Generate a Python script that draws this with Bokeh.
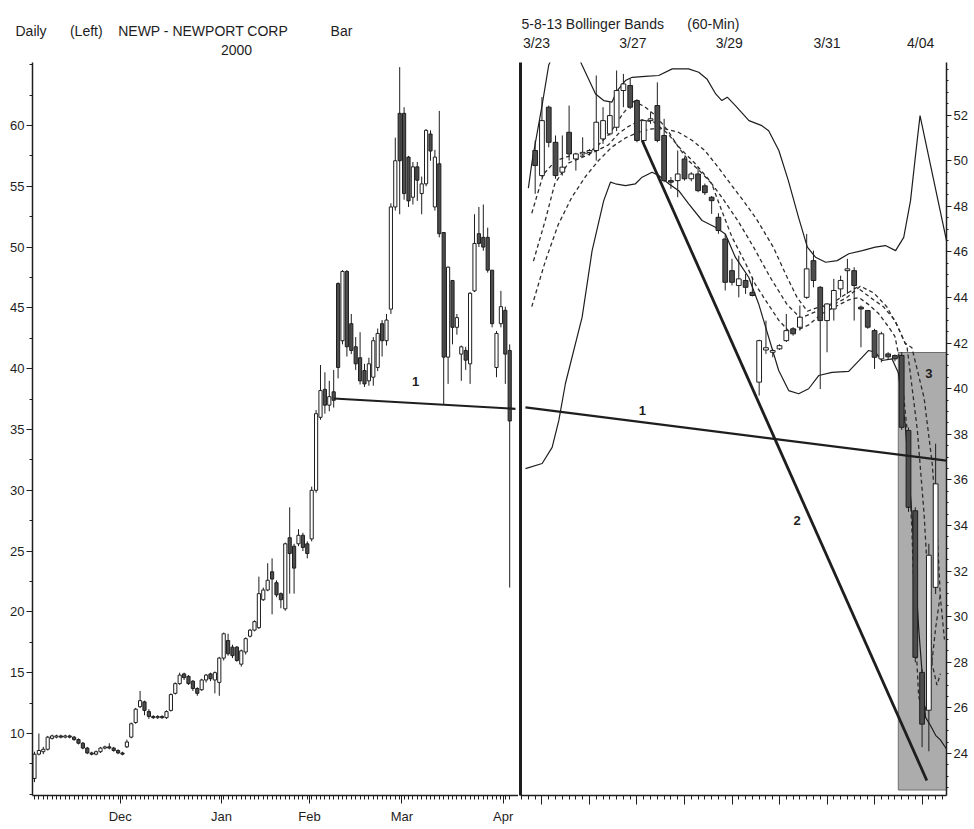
from bokeh.plotting import figure
from bokeh.layouts import row
from bokeh.models import Range1d, FixedTicker, LinearAxis, Label, Title
from bokeh.embed import file_html
from bokeh.resources import INLINE

FONT = "Liberation Sans"
INK = "#1e1e1e"
BODY_DN = "#4d4d4d"
NB = "\u00a0"

# ---------------- daily NEWP (left panel) ----------------
d_open = [6.3, 8.3, 8.5, 8.7, 9.6, 9.7, 9.8, 9.7, 9.8, 9.7,
          9.5, 9.2, 8.8, 8.4, 8.3, 8.5, 8.8, 8.9, 8.8, 8.6,
          8.4, 8.9, 9.7, 10.9, 12.2, 12.6, 11.8, 11.4, 11.3, 11.4,
          11.3, 11.9, 13.3, 14.1, 14.9, 14.7, 14.3, 13.7, 13.6, 14.4,
          14.9, 14.4, 14.2, 16.2, 17.65, 17.1, 17.1, 15.7, 16.7, 18.0,
          18.5, 18.7, 21.0, 21.8, 23.3, 22.4, 21.5, 20.25, 26.1, 25.4,
          25.6, 26.3, 25.6, 26.0, 30.0, 36.0, 38.3, 37.0, 38.1, 47.0,
          42.3, 48.0, 43.7, 41.8, 40.9, 39.85, 39.0, 39.3, 40.1, 43.7,
          42.3, 44.9, 53.3, 61.0, 61.0, 57.4, 54.1, 56.6, 54.4, 55.2,
          59.3, 53.3, 56.85, 51.2, 40.95, 47.25, 43.4, 41.2, 41.5, 40.4,
          46.4, 51.1, 50.8, 50.8, 48.1, 40.1, 43.7, 44.8, 41.5]
d_high = [8.5, 10.0, 8.9, 9.8, 9.9, 9.9, 9.9, 9.9, 9.9, 9.8,
          9.6, 9.3, 8.9, 8.5, 8.6, 8.9, 9.0, 9.2, 8.9, 8.7,
          8.5, 9.5, 10.9, 12.1, 13.5, 12.7, 12.0, 11.5, 11.5, 11.5,
          11.9, 13.3, 14.2, 15.0, 15.0, 14.8, 14.4, 13.8, 14.5, 14.9,
          15.0, 15.1, 16.3, 18.3, 18.2, 17.3, 17.2, 16.9, 17.9, 18.6,
          19.3, 22.9, 22.0, 24.0, 24.4, 22.6, 21.6, 25.7, 28.6, 25.6,
          26.8, 26.5, 25.8, 30.3, 36.6, 40.3, 39.7, 39.0, 39.9, 47.1,
          48.1, 48.1, 44.5, 42.6, 43.0, 40.4, 40.9, 42.6, 43.3, 44.0,
          44.5, 53.6, 59.0, 64.8, 61.5, 57.5, 57.0, 57.0, 55.8, 59.7,
          59.6, 58.0, 61.2, 51.2, 48.4, 47.3, 44.5, 41.9, 41.8, 46.3,
          52.7, 53.3, 53.5, 51.6, 48.1, 43.1, 46.4, 45.1, 42.0]
d_low = [6.0, 8.2, 8.3, 8.6, 9.5, 9.6, 9.6, 9.6, 9.6, 9.4,
         9.1, 8.7, 8.3, 8.2, 8.2, 8.4, 8.7, 8.7, 8.5, 8.3,
         8.2, 8.8, 9.6, 10.8, 12.1, 11.5, 11.2, 11.2, 11.2, 11.2,
         11.2, 11.8, 13.2, 14.0, 14.4, 14.0, 13.5, 13.1, 13.5, 14.2,
         14.3, 13.3, 13.1, 16.0, 16.4, 16.2, 15.9, 15.5, 16.5, 17.9,
         18.4, 18.6, 20.9, 21.7, 19.8, 21.2, 20.3, 20.1, 21.5, 21.5,
         25.4, 25.0, 24.4, 25.8, 29.8, 35.8, 36.3, 36.5, 36.8, 39.2,
         42.0, 41.0, 41.2, 39.9, 38.7, 38.5, 38.6, 38.6, 39.8, 41.0,
         41.9, 44.5, 53.0, 52.7, 53.9, 53.3, 53.5, 53.8, 52.7, 55.0,
         57.1, 53.0, 50.8, 37.1, 38.75, 42.0, 42.8, 39.0, 39.9, 38.75,
         46.3, 50.0, 49.7, 47.9, 43.4, 39.3, 43.4, 38.75, 22.0]
d_close = [8.3, 8.6, 8.7, 9.7, 9.8, 9.8, 9.7, 9.8, 9.7, 9.5,
           9.2, 8.8, 8.4, 8.3, 8.5, 8.8, 8.9, 8.8, 8.6, 8.4,
           8.3, 9.3, 10.8, 12.0, 12.7, 11.9, 11.4, 11.3, 11.4, 11.3,
           11.8, 13.2, 14.1, 14.8, 14.6, 14.1, 13.7, 13.3, 14.4, 14.8,
           14.5, 15.0, 16.2, 18.2, 16.55, 16.4, 16.0, 16.8, 17.8, 18.5,
           19.2, 21.5, 21.8, 22.6, 22.7, 21.4, 21.0, 25.6, 24.8, 23.6,
           26.3, 25.3, 24.8, 30.0, 36.3, 38.2, 37.0, 37.7, 37.4, 40.1,
           48.0, 41.8, 41.5, 40.4, 39.0, 38.75, 40.4, 42.3, 42.9, 42.3,
           44.0, 53.3, 57.1, 57.1, 54.4, 53.8, 56.6, 55.5, 55.2, 59.6,
           57.9, 57.4, 51.1, 40.95, 48.35, 43.4, 44.2, 41.8, 40.7, 46.2,
           50.3, 50.3, 50.0, 48.1, 43.7, 42.9, 45.1, 41.2, 35.7]

months = ["Dec", "Jan", "Feb", "Mar", "Apr"]
month_pos = [19.5, 42.5, 62.5, 83.5, 106.5]
left_ticks = [10, 15, 20, 25, 30, 35, 40, 45, 50, 55, 60]
year_label = "2000"
year_pos = 45.9

daily_trend_x = [68.0, 109.3]
daily_trend_y = [37.55, 36.7]
daily_note = ("1", 86.6, 38.95)

# ---------------- 60-min bars (right panel) ----------------
h_open = [50.45, 49.35, 52.35, 50.81, 49.50, 51.25, 50.08, 50.30, 50.37, 50.45,
          50.96, 51.18, 51.47, 53.08, 53.30, 52.64, 50.89, 51.76, 52.42, 51.11,
          49.13, 49.13, 50.08, 49.21, 49.42, 48.90, 48.40, 47.52, 46.57, 45.18,
          44.53, 44.75, 44.23, 40.29, 41.70, 41.60, 41.75, 42.11, 42.63, 42.70,
          44.01, 45.62, 44.45, 42.99, 43.50, 44.38, 45.18, 45.18, 43.58, 43.43,
          42.55, 41.31, 41.53, 41.46, 41.46, 38.17, 34.65, 27.56, 25.90, 31.29]
h_high = [50.89, 52.79, 52.42, 51.11, 51.11, 52.42, 50.35, 51.03, 50.52, 53.74,
          52.35, 52.57, 53.96, 53.81, 53.59, 52.70, 51.80, 52.13, 53.44, 51.84,
          49.28, 50.45, 50.16, 49.50, 49.72, 49.00, 48.45, 47.70, 46.79, 45.70,
          45.84, 45.04, 44.89, 42.15, 42.99, 41.75, 41.95, 43.28, 42.70, 43.65,
          46.79, 46.06, 44.50, 43.75, 44.82, 44.96, 45.70, 45.33, 43.65, 43.45,
          42.63, 42.50, 41.60, 41.50, 41.60, 38.30, 34.80, 27.70, 33.20, 37.59]
h_low = [48.55, 49.28, 50.59, 49.21, 49.35, 50.01, 49.57, 50.23, 50.23, 50.01,
         50.74, 51.11, 51.30, 52.35, 52.27, 50.81, 50.74, 51.62, 50.81, 49.06,
         48.77, 48.40, 49.13, 49.10, 48.62, 48.50, 47.67, 46.80, 44.31, 44.53,
         44.01, 44.16, 44.05, 39.70, 41.53, 41.38, 41.70, 42.05, 42.33, 42.55,
         43.94, 44.45, 39.99, 41.60, 42.99, 44.01, 44.16, 42.99, 41.82, 42.63,
         40.87, 41.16, 41.30, 41.20, 38.20, 34.60, 28.00, 24.28, 24.10, 31.00]
h_close = [49.79, 51.76, 50.81, 49.35, 49.72, 50.30, 50.30, 50.37, 50.45, 51.69,
           51.76, 51.98, 53.08, 53.37, 52.35, 50.89, 51.76, 51.84, 50.89, 49.13,
           49.06, 49.42, 49.21, 49.42, 48.69, 48.60, 48.25, 46.94, 44.67, 44.67,
           44.82, 44.45, 44.09, 42.11, 41.80, 41.68, 41.89, 42.55, 42.41, 43.14,
           45.26, 44.75, 42.99, 43.72, 44.31, 44.75, 45.26, 44.53, 43.50, 42.70,
           41.38, 42.41, 41.40, 41.31, 38.31, 34.80, 28.22, 25.29, 32.70, 35.83]

ub_x = [-1.0, -0.44, 1.0, 2.0, 4.5, 6.9, 8.9, 10.1, 11.3, 12.1, 13.3, 14.3, 16.2, 18.2,
        20.2, 22.6, 24.1, 25.3, 26.6, 27.5, 28.3, 29.5, 31.5, 33.4, 34.4, 35.9, 37.3,
        38.8, 40.1, 41.3, 42.8, 44.5, 46.2, 48.2, 50.1, 51.6, 53.1, 54.3, 55.3, 56.0,
        56.7, 60.6]
ub_y = [48.8, 50.0, 52.4, 54.2, 55.8, 54.2, 52.93, 52.64, 52.57, 53.08, 53.52, 53.66, 53.7,
        53.74, 54.03, 54.03, 53.88, 53.59, 52.93, 52.64, 52.79, 52.42, 51.76, 51.54, 51.32,
        50.45, 49.13, 47.52, 46.21, 45.77, 45.55, 45.62, 45.92, 46.06, 46.21, 46.28, 46.06,
        46.64, 48.25, 50.15, 51.98, 46.5]
lb_x = [-1.43, 1.03, 2.50, 3.48, 4.46, 6.92, 8.39, 10.10, 11.09, 11.83, 13.30, 14.77,
        15.76, 17.23, 18.20, 19.68, 21.15, 22.62, 24.59, 26.55, 28.02, 29.49, 31.46,
        32.93, 34.40, 35.88, 37.35, 38.82, 40.29, 41.77, 43.74, 46.19, 48.16, 49.13,
        50.12, 51.10, 52.58, 53.5, 54.5, 55.5, 56.5, 57.5, 58.3, 59.0, 59.7, 60.6]
lb_y = [36.5, 36.72, 37.43, 38.6, 40.23, 43.14, 46.06, 48.25, 49.06, 48.99, 48.91, 48.99,
        49.28, 49.5, 49.35, 48.99, 48.69, 48.11, 47.38, 47.08, 46.79, 45.77, 44.89, 43.72,
        42.26, 40.8, 39.92, 39.78, 40.0, 40.58, 40.72, 40.76, 41.38, 41.68, 41.6, 41.24,
        41.31, 40.7, 38.5, 34.5, 29.5, 25.6, 25.2, 24.8, 24.6, 24.2]

ma5_x = [-0.5, 1.2, 3.0, 5.0, 7.0, 9.0, 11.0, 13.0, 14.5, 16.0, 17.7, 19.6, 21.1, 22.6,
         24.1, 26.0, 27.5, 29.0, 31.0, 32.4, 33.9, 35.9, 37.3, 38.8, 40.3, 42.3, 44.2,
         46.2, 47.7, 49.1, 50.6, 52.1, 53.0, 53.8, 54.8, 55.5, 56.0, 56.5, 57.3, 58.0,
         59.0, 59.7]
ma5_y = [47.7, 49.4, 50.0, 50.2, 50.2, 50.6, 51.2, 52.1, 52.6, 52.4, 52.0, 51.3, 50.6,
         50.0, 49.6, 49.0, 47.8, 46.65, 45.5, 44.6, 43.9, 43.0, 42.55, 42.6, 42.8, 43.3,
         43.6, 43.9, 44.0, 43.7, 43.3, 42.7, 42.3, 41.1, 38.2, 33.8, 29.4, 26.5, 25.6,
         26.8, 29.5, 31.0]
ma8_x = [-0.25, 1.5, 2.9, 4.9, 6.9, 8.8, 10.8, 12.3, 13.7, 15.7, 17.5, 19.5, 21.5, 23.5,
         25.5, 27.5, 29.8, 32.2, 34.6, 37.1, 39.1, 41.5, 43.5, 45.5, 47.4, 49.4, 51.3,
         53.0, 54.8, 56.3, 57.3, 58.0, 58.5, 59.2, 59.7]
ma8_y = [45.6, 47.4, 49.0, 49.9, 50.15, 50.4, 50.7, 51.2, 51.5, 51.8, 51.7, 51.2, 50.5,
         49.9, 49.2, 48.4, 47.4, 46.2, 44.9, 43.7, 43.1, 43.4, 43.7, 44.1, 44.45, 44.0,
         43.6, 43.0, 41.8, 38.2, 34.5, 30.85, 27.9, 27.0, 27.5]
ma13_x = [-0.5, 1.5, 3.4, 5.4, 7.4, 9.3, 11.3, 13.3, 15.2, 17.2, 19.1, 21.1, 23.1, 25.0,
          27.0, 29.0, 30.8, 32.7, 35.1, 37.1, 38.6, 40.1, 42.0, 44.0, 45.9, 47.9, 49.9,
          51.8, 53.3, 54.5, 55.5, 57.3, 58.5, 59.2, 59.7, 60.3]
ma13_y = [43.6, 45.6, 47.2, 48.4, 49.3, 50.0, 50.6, 51.0, 51.25, 51.4, 51.4, 51.25, 50.9,
          50.45, 49.7, 48.9, 48.2, 47.4, 46.2, 44.9, 44.0, 43.4, 43.6, 43.7, 44.0, 44.5,
          44.2, 43.6, 42.8, 42.0, 41.8, 39.6, 36.7, 33.8, 30.85, 29.0]

trend1_x = [-1.43, 60.6]
trend1_y = [39.18, 36.85]
trend2_x = [15.76, 57.7]
trend2_y = [50.89, 22.82]
zone_x = [53.5, 60.6]
zone_y = [22.4, 41.59]
notes_right = [("1", 15.8, 39.04), ("2", 38.6, 34.2), ("3", 58.0, 40.65)]

date_labels = ["3/23", "3/27", "3/29", "3/31", "4/04"]
date_pos = [0.2, 14.4, 28.6, 43.0, 56.8]
right_ticks = [24, 26, 28, 30, 32, 34, 36, 38, 40, 42, 44, 46, 48, 50, 52]

left_header = ["Daily", "(Left)", "NEWP - NEWPORT CORP", "Bar"]
left_gaps = [6, 4, 11]
right_header = ["5-8-13 Bollinger Bands", "(60-Min)"]
right_gaps = [6]


def join_header(parts, gaps):
    out = parts[0]
    for g, part in zip(gaps, parts[1:]):
        out += NB * g + part
    return out


def draw_candles(p, o, h, l, c, width):
    xs = list(range(len(o)))
    top = [max(a, b) for a, b in zip(o, c)]
    bot = [min(a, b) for a, b in zip(o, c)]
    fill = ["#ffffff" if b >= a else BODY_DN for a, b in zip(o, c)]
    p.segment(x0=xs, y0=l, x1=xs, y1=h, line_color=INK, line_width=1)
    p.vbar(x=xs, width=width, top=top, bottom=bot, fill_color=fill,
           line_color=INK, line_width=1)


def style_axis(ax, size="13px"):
    ax.axis_line_color = INK
    ax.axis_line_width = 1.5
    ax.major_tick_line_color = INK
    ax.minor_tick_line_color = INK
    ax.major_tick_in = 0
    ax.minor_tick_in = 0
    ax.major_label_text_font = FONT
    ax.major_label_text_font_size = size
    ax.major_label_text_color = INK


def label_axis(ticks, labels, standoff):
    ax = LinearAxis(ticker=FixedTicker(ticks=ticks),
                    major_label_overrides={t: s for t, s in zip(ticks, labels)},
                    axis_line_color=None, major_tick_line_color=None,
                    minor_tick_line_color=None, major_tick_out=0, major_tick_in=0,
                    minor_tick_out=0, minor_tick_in=0, major_label_standoff=standoff,
                    major_label_text_font=FONT, major_label_text_font_size="14px",
                    major_label_text_color=INK)
    return ax


def header_title(text, offset, standoff):
    return Title(text=text, align="left", offset=offset, standoff=standoff,
                 text_font=FONT, text_font_size="14px", text_font_style="normal",
                 text_color=INK)


# ---------------- left figure ----------------
p1 = figure(frame_width=486, frame_height=733, x_range=Range1d(-0.45, 110.0),
            y_range=Range1d(4.9, 65.18), output_backend="svg", toolbar_location=None,
            min_border_left=32, min_border_right=0, min_border_top=62, min_border_bottom=33,
            outline_line_color=None, background_fill_color="white",
            border_fill_color="white")
p1.xgrid.visible = False
p1.ygrid.visible = False

ya = p1.yaxis[0]
ya.ticker = FixedTicker(ticks=left_ticks, minor_ticks=[v / 2 for v in range(10, 131, 5)])
style_axis(ya)
ya.major_tick_out = 6
ya.minor_tick_out = 3
ya.major_label_standoff = 2

xa = p1.xaxis[0]
xa.ticker = FixedTicker(ticks=month_pos, minor_ticks=list(range(len(d_open))))
xa.major_label_overrides = {pos: m for pos, m in zip(month_pos, months)}
style_axis(xa)
xa.major_tick_out = 8
xa.minor_tick_out = 4
xa.major_label_standoff = 5

p1.add_layout(label_axis([year_pos], [year_label], 8), "above")
p1.add_layout(header_title(join_header(left_header, left_gaps), -17, 5), "above")

draw_candles(p1, d_open, d_high, d_low, d_close, 0.72)
p1.line(daily_trend_x, daily_trend_y, line_color=INK, line_width=2.2)
p1.add_layout(Label(x=daily_note[1], y=daily_note[2], text=daily_note[0],
                    text_font=FONT, text_font_size="13px", text_font_style="bold",
                    text_color=INK, text_align="center", text_baseline="middle"))

# ---------------- right figure ----------------
p2 = figure(frame_width=426, frame_height=733, x_range=Range1d(-2.16, 60.6),
            y_range=Range1d(22.16, 54.31), y_axis_location="right",
            output_backend="svg", toolbar_location=None,
            min_border_left=2, min_border_right=24, min_border_top=62, min_border_bottom=33,
            outline_line_color=None, background_fill_color="white",
            border_fill_color="white")
p2.xgrid.visible = False
p2.ygrid.visible = False

yr = p2.yaxis[0]
yr.ticker = FixedTicker(ticks=right_ticks, minor_ticks=[v / 2 for v in range(44, 109)])
style_axis(yr, "13px")
yr.major_tick_out = 5
yr.minor_tick_out = 2
yr.major_label_standoff = 2

day_ticks = list(range(1, 61, 7))
xr = p2.xaxis[0]
xr.ticker = FixedTicker(ticks=day_ticks, minor_ticks=list(range(-2, 61)))
style_axis(xr)
xr.major_tick_out = 9
xr.minor_tick_out = 4
xr.major_label_overrides = {t: "" for t in day_ticks}

divider = LinearAxis(ticker=FixedTicker(ticks=[]), axis_line_width=3, axis_line_color=INK,
                     major_tick_out=0, major_tick_in=0, minor_tick_out=0, minor_tick_in=0,
                     major_label_standoff=0)
p2.add_layout(divider, "left")

p2.add_layout(label_axis(date_pos, date_labels, 12), "above")
p2.add_layout(header_title(join_header(right_header, right_gaps), 1, 0), "above")

p2.quad(left=[zone_x[0]], right=[zone_x[1]], bottom=[zone_y[0]], top=[zone_y[1]],
        fill_color="#a3a3a3", fill_alpha=0.9, line_color="#6e6e6e", line_width=1)

p2.line(ub_x, ub_y, line_color=INK, line_width=1.2)
p2.line(lb_x, lb_y, line_color=INK, line_width=1.2)
for mx, my in ((ma5_x, ma5_y), (ma8_x, ma8_y), (ma13_x, ma13_y)):
    p2.line(mx, my, line_color="#2e2e2e", line_width=1.3, line_dash="4 3")

draw_candles(p2, h_open, h_high, h_low, h_close, 0.7)

p2.line(trend1_x, trend1_y, line_color=INK, line_width=2.2)
p2.line(trend2_x, trend2_y, line_color=INK, line_width=2.8)
for t, x, y in notes_right:
    p2.add_layout(Label(x=x, y=y, text=t, text_font=FONT, text_font_size="13px",
                        text_font_style="bold", text_color=INK, text_align="center",
                        text_baseline="middle"))

layout = row(p1, p2)
open("out.html", "w").write(file_html(layout, INLINE, title="NEWP"))
